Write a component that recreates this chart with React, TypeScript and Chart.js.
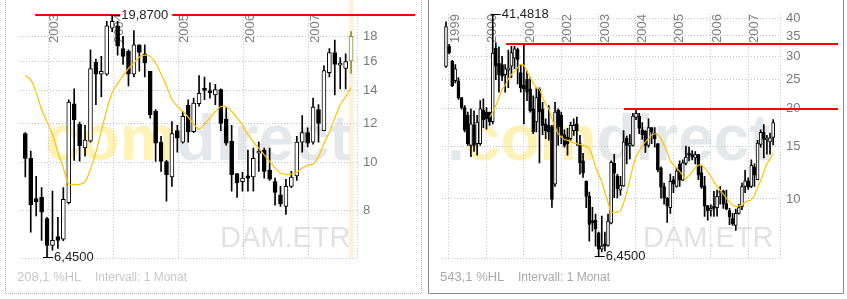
import React, { useEffect, useRef } from 'react';
import { Chart, registerables } from 'chart.js';

Chart.register(...registerables);

// Monthly candles of DAM.ETR, index 0 = Dec 1998, index 1 = Jan 1999 ... index 105 = Sep 2007
const FIRST_YEAR = 1999;

const OPEN = [
  27.7, 32.4, 28.8, 24.8, 24.8, 21.8, 20.2, 19.0, 15.1, 17.6,
  15.3, 15.3, 19.8, 19.5, 19.5, 18.1, 31.9, 28.4, 28.1, 26.0,
  26.9, 27.75, 29.5, 31.5, 26.4, 24.0, 25.1, 23.3, 20.0, 18.06,
  23.2, 20.0, 17.8, 17.6, 17.4, 11.2, 19.8, 19.0, 16.4, 16.1,
  15.9, 16.9, 17.8, 15.3, 13.4,
  11.45, 10.2, 8.45, 8.5, 7.7, 6.8, 7.08, 7.0, 8.3, 13.15,
  11.95, 10.7, 11.05, 15.95, 15.1, 15.1, 18.7, 18.9, 17.0, 16.8,
  15.1, 17.3, 16.6, 15.3, 12.7, 11.0, 10.05, 9.35, 11.6, 11.0,
  13.05, 11.55, 13.15, 14.1, 13.95, 13.7, 14.05, 12.25, 11.05, 9.5,
  9.15, 9.4, 9.35, 10.45, 10.6, 9.65, 9.15, 8.6, 8.15, 8.95,
  9.4, 11.0, 11.5, 11.0, 12.8, 11.6, 15.2, 16.7, 15.75, 15.5,
  16.05,
];

const HIGH = [
  39.0, 32.8, 29.0, 28.1, 25.4, 21.8, 20.5, 19.5, 20.0, 19.7,
  19.0, 21.3, 21.6, 20.2, 19.5, 41.4818, 33.2, 32.2, 29.9, 28.1,
  31.4, 32.3, 32.3, 31.9, 28.1, 33.0, 26.7, 25.4, 22.1, 23.5,
  23.5, 21.0, 18.5, 20.5, 17.6, 21.0, 20.0, 19.5, 17.0, 17.2,
  18.06, 18.5, 18.75, 16.3, 14.2,
  11.5, 10.55, 9.38, 8.9, 7.75, 8.76, 7.75, 8.9, 13.4, 14.1,
  12.08, 11.9, 16.9, 16.2, 16.4, 19.3, 19.87, 19.3, 18.0, 16.9,
  18.5, 17.3, 17.3, 15.3, 12.8, 11.3, 10.1, 12.1, 11.9, 12.7,
  13.4, 13.5, 15.0, 14.9, 14.5, 14.4, 14.1, 12.9, 11.9, 9.5,
  9.55, 10.6, 10.7, 11.0, 10.7, 10.7, 9.3, 8.95, 9.25, 9.6,
  11.3, 12.45, 11.75, 13.5, 13.1, 15.7, 17.0, 17.7, 16.3, 16.6,
  18.4,
];

const LOW = [
  27.5, 30.5, 23.7, 24.4, 21.5, 19.95, 16.75, 15.1, 13.85, 14.4,
  14.0, 15.1, 17.3, 17.1, 17.6, 17.8, 25.0, 22.7, 24.8, 22.7,
  23.5, 25.4, 27.2, 24.2, 22.7, 17.8, 21.3, 19.5, 16.5, 16.75,
  13.2, 16.4, 15.9, 15.7, 9.36, 11.0, 15.1, 15.3, 14.9, 14.0,
  15.7, 16.3, 15.1, 12.1, 11.8,
  9.35, 7.23, 7.8, 6.96, 6.45, 6.65, 6.7, 6.95, 8.25, 10.1,
  10.07, 10.3, 11.0, 13.1, 13.6, 15.0, 18.4, 16.5, 15.8, 14.3,
  14.9, 15.3, 14.9, 12.3, 10.05, 9.6, 8.35, 8.95, 10.5, 10.95,
  11.0, 11.5, 13.0, 13.4, 13.5, 13.1, 11.6, 10.85, 8.75, 8.5,
  8.75, 8.75, 8.75, 9.6, 9.3, 9.2, 8.2, 8.15, 7.85, 8.9,
  9.2, 10.5, 10.75, 10.9, 11.0, 11.6, 14.9, 13.7, 14.1, 14.1,
  15.15,
];

const CLOSE = [
  37.6, 30.8, 23.85, 27.2, 21.8, 20.2, 16.95, 15.3, 17.8, 15.1,
  18.05, 20.0, 18.4, 18.5, 18.1, 30.7, 27.75, 26.0, 25.7, 27.2,
  27.4, 30.8, 31.7, 29.2, 23.5, 23.3, 22.7, 19.7, 16.75, 21.8,
  19.5, 17.6, 16.9, 16.75, 9.97, 19.5, 17.4, 16.3, 15.1, 15.3,
  17.6, 17.6, 16.9, 13.2, 12.2,
  10.2, 8.22, 8.33, 7.94, 6.8, 6.96, 6.96, 8.43, 13.25, 12.2,
  10.8, 11.1, 15.5, 15.1, 15.3, 18.9, 19.3, 17.2, 16.4, 15.1,
  17.3, 16.7, 15.9, 12.5, 10.95, 10.05, 9.45, 11.45, 11.2, 12.4,
  11.55, 13.2, 13.8, 14.0, 13.85, 14.05, 12.0, 10.95, 9.45, 9.1,
  9.3, 9.3, 10.2, 10.55, 9.6, 9.25, 8.7, 8.25, 8.95, 9.35,
  11.0, 11.5, 10.95, 12.95, 12.0, 15.35, 16.7, 15.8, 15.9, 16.0,
  18.0,
];

const MA = [
  null, null, null, null, null, null, null, null, null, null,
  null, null, null, null,
  18.75, 19.5, 20.5, 21.8, 23.2, 23.95, 25.1, 26.0, 26.7, 27.4,
  28.1, 27.9, 26.7, 25.4, 24.4, 23.5, 23.2, 21.8, 20.7, 20.0,
  18.5, 17.4, 16.5, 16.1, 15.8, 15.7, 15.5, 15.4, 15.3, 15.2,
  15.1,
  15.0, 14.7, 13.86, 12.8, 12.08, 11.4, 10.5, 9.75, 9.05, 9.03,
  9.03, 9.15, 9.7, 10.5, 11.6, 12.8, 13.86, 14.45, 15.0, 15.5,
  15.9, 16.35, 16.5, 16.4, 15.9, 15.1, 14.3, 13.4, 13.0, 12.7,
  12.35, 11.97, 11.7, 11.97, 12.3, 12.7, 12.97, 12.97, 12.7, 12.3,
  11.9, 11.4, 11.0, 10.7, 10.37, 10.05, 9.75, 9.52, 9.45, 9.48,
  9.55, 9.75, 9.87, 9.93, 10.28, 10.93, 11.53, 12.3, 13.1, 13.6,
  14.2,
];

const SYMBOL = 'DAM.ETR';
const INTERVAL = 'Intervall: 1 Monat';

const SHORT_YEARS = [2003, 2004, 2005, 2006, 2007];
const LONG_YEARS = [1999, 2000, 2001, 2002, 2003, 2004, 2005, 2006, 2007];
const SHORT_TICKS = [8, 10, 12, 14, 16, 18];
const LONG_TICKS = [10, 15, 20, 25, 30, 35, 40];
const SHORT_START = 45; // Sep 2002
const SHORT_LINES = [19.87];
const SHORT_LINES_FROM = [1.8];
const LONG_LINES = [32.8, 20.0];
const LONG_LINES_FROM = [19.3, 57.1];

const FONT = "'Liberation Sans', Arial, Helvetica, sans-serif";
const GRID = '#c2c2d2';
const YELLOW_WM = 'rgba(255,224,80,0.42)';
const GRAY_WM = 'rgba(170,180,186,0.30)';

type Panel = any;

const PANELS: Panel[] = [
  {
    key: 'short', left: 0, width: 424, start: SHORT_START, years: SHORT_YEARS, ticks: SHORT_TICKS,
    yMin: 6.41, yMax: 20.0, xMin: -0.98, xMax: 61.09, plotLeft: 20, plotRight: 357, bodyW: 4,
    gridShift: 0.18, lines: SHORT_LINES, linesFrom: SHORT_LINES_FROM, highlightLast: true,
    frameL: 5, frameR: 421, frameColor: '#b4b4b4', frameDash: [1, 1],
    wmX: 45, wmParts: [['com', YELLOW_WM], ['direct', GRAY_WM]], symX: 220, textX: 17, textColor: '#c6c6c6',
  },
  {
    key: 'long', left: 424, width: 423, start: 0, years: LONG_YEARS, ticks: LONG_TICKS,
    yMin: 6.35, yMax: 41.5, xMin: -1.28, xMax: 107.2, plotLeft: 18, plotRight: 356, bodyW: 3,
    gridShift: -0.04, lines: LONG_LINES, linesFrom: LONG_LINES_FROM, highlightLast: false,
    frameL: 4, frameR: 419, frameColor: '#8a8a8a', frameDash: [],
    wmX: 23, wmParts: [['.', GRAY_WM], ['com', YELLOW_WM], ['direct', GRAY_WM]], symX: 219, textX: 16, textColor: '#a8a8a8',
  },
];

const fmt4 = (v: number) => v.toFixed(4).replace('.', ',');

function panelPlugin(p: Panel, yearPos: number[], n: number) {
  const hi = HIGH.slice(p.start);
  const lo = LOW.slice(p.start);
  const maxV = Math.max(...hi);
  const minV = Math.min(...lo);
  const iMax = hi.indexOf(maxV);
  const iMin = lo.indexOf(minV);
  const pct = (((maxV - minV) / minV) * 100).toFixed(1).replace('.', ',');
  return {
    id: 'panel_' + p.key,
    beforeDraw(chart: any) {
      const { ctx } = chart;
      ctx.save();
      ctx.strokeStyle = p.frameColor;
      ctx.lineWidth = 1;
      ctx.setLineDash(p.frameDash);
      ctx.beginPath();
      ctx.moveTo(p.frameL + 0.5, 0);
      ctx.lineTo(p.frameL + 0.5, 293.5);
      ctx.lineTo(p.frameR + 0.5, 293.5);
      ctx.lineTo(p.frameR + 0.5, 0);
      ctx.stroke();
      ctx.setLineDash([]);
      ctx.textAlign = 'left';
      ctx.textBaseline = 'alphabetic';
      ctx.font = `bold 64px ${FONT}`;
      let x = p.wmX;
      p.wmParts.forEach(([t, c]: [string, string]) => {
        ctx.fillStyle = c;
        ctx.fillText(t, x, 160);
        x += ctx.measureText(t).width;
      });
      ctx.font = `29px ${FONT}`;
      ctx.fillStyle = 'rgba(160,160,160,0.30)';
      ctx.fillText(SYMBOL, p.symX, 247);
      ctx.fillStyle = p.textColor;
      ctx.font = `13px ${FONT}`;
      ctx.fillText(`${pct} %HL`, p.textX, 281);
      ctx.font = `12px ${FONT}`;
      ctx.fillText(INTERVAL, p.textX + 78, 281);
      ctx.restore();
    },
    beforeDatasetsDraw(chart: any) {
      const { ctx, chartArea: ca } = chart;
      const xs = chart.scales.x;
      ctx.save();
      if (p.highlightLast) {
        const lx = xs.getPixelForValue(n - 1);
        ctx.fillStyle = 'rgba(255,200,110,0.26)';
        ctx.fillRect(lx - 2.5, 0, 5, ca.bottom);
      }
      ctx.strokeStyle = GRID;
      ctx.lineWidth = 1;
      ctx.setLineDash([1, 2]);
      ctx.beginPath();
      ctx.moveTo(ca.right + 0.5, ca.top);
      ctx.lineTo(ca.right + 0.5, ca.bottom + 0.5);
      ctx.lineTo(ca.left, ca.bottom + 0.5);
      ctx.stroke();
      ctx.setLineDash([]);
      ctx.fillStyle = '#808080';
      ctx.font = `13px ${FONT}`;
      yearPos.forEach((v, j) => {
        const gx = xs.getPixelForValue(v);
        ctx.save();
        ctx.translate(gx, 43);
        ctx.rotate(-Math.PI / 2);
        ctx.textAlign = 'left';
        ctx.textBaseline = 'top';
        ctx.fillText(String(p.years[j]), 0, 0);
        ctx.restore();
      });
      ctx.restore();
    },
    afterDatasetsDraw(chart: any) {
      const { ctx } = chart;
      const xs = chart.scales.x;
      const ys = chart.scales.y;
      ctx.save();
      ctx.strokeStyle = '#ff0000';
      ctx.lineWidth = 2;
      p.lines.forEach((v: number, j: number) => {
        const y = Math.round(ys.getPixelForValue(v));
        const x0 = xs.getPixelForValue(p.linesFrom[j]);
        ctx.beginPath();
        ctx.moveTo(x0, y);
        ctx.lineTo(chart.width - 9, y);
        ctx.stroke();
      });
      ctx.font = `13px ${FONT}`;
      ctx.textAlign = 'left';
      ctx.textBaseline = 'middle';
      const xM = xs.getPixelForValue(iMax);
      const yM = Math.round(ys.getPixelForValue(maxV)) + 0.5;
      const lblM = fmt4(maxV);
      const tw = ctx.measureText(lblM).width;
      ctx.fillStyle = '#fff';
      ctx.fillRect(xM + 8, yM - 7, tw + 5, 14);
      ctx.strokeStyle = '#000';
      ctx.lineWidth = 1;
      ctx.beginPath();
      ctx.moveTo(xM - 2, yM);
      ctx.lineTo(xM + 8, yM);
      ctx.stroke();
      ctx.fillStyle = '#222';
      ctx.fillText(lblM, xM + 9, yM);
      const xm = xs.getPixelForValue(iMin);
      const ym = Math.round(ys.getPixelForValue(minV)) + 0.5;
      ctx.beginPath();
      ctx.moveTo(xm - 4, ym);
      ctx.lineTo(xm + 6, ym);
      ctx.stroke();
      ctx.fillText(fmt4(minV), xm + 7, ym);
      ctx.restore();
    },
  };
}

function buildConfig(p: Panel): any {
  const n = OPEN.length - p.start;
  const idx = Array.from({ length: n }, (_, k) => k);
  const wick = idx.map((k) => ({ x: k, y: [LOW[p.start + k], HIGH[p.start + k]] }));
  const body = idx.map((k) => ({ x: k, y: [OPEN[p.start + k], CLOSE[p.start + k]] }));
  const ma = idx.map((k) => ({ x: k, y: MA[p.start + k] }));
  const last = n - 1;
  const edge = (c: any) => (p.highlightLast && c.dataIndex === last ? '#8e8e3c' : '#000');
  const fill = (c: any) => {
    const i = p.start + c.dataIndex;
    return CLOSE[i] >= OPEN[i] ? '#fff' : edge(c);
  };
  const yearPos = p.years.map((y: number) => (y - FIRST_YEAR) * 12 + 1 - p.start + p.gridShift);
  return {
    type: 'bar',
    data: {
      datasets: [
        {
          type: 'line', data: ma, borderColor: '#ffc400', borderWidth: 1.2, pointRadius: 0,
          tension: 0.3, spanGaps: false, fill: false, order: 0,
        },
        {
          type: 'bar', data: body, backgroundColor: fill, borderColor: edge, borderWidth: 1,
          borderSkipped: false, barThickness: p.bodyW, minBarLength: 2, grouped: false, order: 1,
        },
        {
          type: 'bar', data: wick, backgroundColor: edge, borderWidth: 0, barThickness: 1,
          grouped: false, order: 2,
        },
      ],
    },
    options: {
      responsive: false,
      animation: false,
      events: [],
      layout: { padding: { left: p.plotLeft, top: 10, right: 0, bottom: 0 } },
      plugins: { legend: { display: false }, tooltip: { enabled: false } },
      scales: {
        x: {
          type: 'linear', min: p.xMin, max: p.xMax, bounds: 'data', offset: false,
          grid: { color: GRID, drawTicks: false, offset: false, lineWidth: 1 },
          border: { display: false, dash: [1, 2] },
          ticks: { display: false },
          afterBuildTicks: (ax: any) => { ax.ticks = yearPos.map((v: number) => ({ value: v })); },
          afterFit: (ax: any) => { ax.height = 299 - 258; },
        },
        y: {
          type: 'logarithmic', position: 'right', min: p.yMin, max: p.yMax, bounds: 'data',
          stacked: false, beginAtZero: false,
          grid: { color: GRID, drawTicks: false, lineWidth: 1 },
          border: { display: false, dash: [1, 2] },
          ticks: {
            color: '#7a7a7a', padding: 6, autoSkip: false,
            font: { family: FONT, size: 13 },
            callback: (v: any) => String(v),
          },
          afterBuildTicks: (ax: any) => { ax.ticks = p.ticks.map((v: number) => ({ value: v })); },
          afterFit: (ax: any) => { ax.width = p.width - p.plotRight; },
        },
      },
    },
    plugins: [panelPlugin(p, yearPos, n)],
  };
}

function PanelChart({ p }: { p: Panel }) {
  const ref = useRef<HTMLCanvasElement | null>(null);
  useEffect(() => {
    const chart = new Chart(ref.current as HTMLCanvasElement, buildConfig(p));
    return () => chart.destroy();
  }, [p]);
  return (
    <canvas
      ref={ref}
      width={p.width}
      height={299}
      style={{ position: 'absolute', left: p.left, top: 0, width: p.width, height: 299 }}
    />
  );
}

export default function App() {
  useEffect(() => {
    document.body.style.margin = '0';
  }, []);
  return (
    <div style={{ position: 'relative', width: 847, height: 299, background: '#fff', overflow: 'hidden' }}>
      {PANELS.map((p) => (
        <PanelChart key={p.key} p={p} />
      ))}
    </div>
  );
}
